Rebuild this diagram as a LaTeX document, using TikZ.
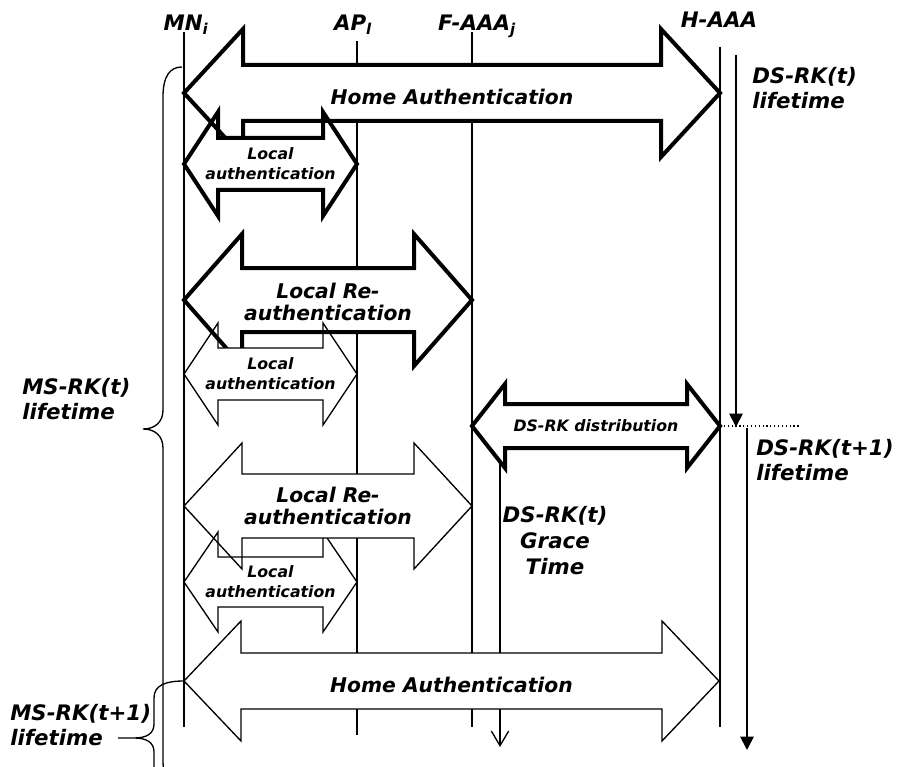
\documentclass[tikz,border=0pt]{standalone}
\usepackage{fontspec}
\setmainfont{DejaVu Sans}
\usetikzlibrary{arrows.meta}

% Double-headed block arrow: only the shaft is filled white.
% #1 style, #2 left tip x, #3 right tip x, #4 centre y,
% #5 head half height, #6 shaft half height, #7 head length, #8 name of centre
\newcommand\blockarrow[8]{%
  \fill[white] ({#2+#7},{#4-#6}) rectangle ({#3-#7},{#4+#6});
  \draw[#1] (#2,#4) -- ({#2+#7},{#4-#5}) -- ({#2+#7},{#4-#6})
    -- ({#3-#7},{#4-#6}) -- ({#3-#7},{#4-#5}) -- (#3,#4)
    -- ({#3-#7},{#4+#5}) -- ({#3-#7},{#4+#6}) -- ({#2+#7},{#4+#6})
    -- ({#2+#7},{#4+#5}) -- cycle;
  \coordinate (#8) at ({(#2+#3)/2},#4);
}

\begin{document}
\begin{tikzpicture}[x=0.75pt,y=-0.75pt,
  lifeline/.style={line width=0.9pt},
  thickarrow/.style={line width=3pt,line join=miter},
  thinarrow/.style={line width=1pt,line join=miter},
  bigtext/.style={font=\bfseries\itshape\fontsize{15.2}{17}\selectfont,align=center,inner sep=0pt},
  smalltext/.style={font=\bfseries\itshape\fontsize{11.8}{15}\selectfont,align=center,inner sep=0pt},
  labeltext/.style={font=\bfseries\itshape\fontsize{16}{18.5}\selectfont,align=left,inner sep=0pt,anchor=west},
  headtext/.style={font=\bfseries\itshape\fontsize{16}{18}\selectfont,inner sep=0pt,anchor=base},
  keylife/.style={line width=1.4pt,-{Triangle[length=10pt,width=10pt]}},
  graceline/.style={line width=1pt,-{Straight Barb[length=11pt,width=13pt]}},
  bracestyle/.style={line width=1pt}
]
\useasboundingbox (0,0) rectangle (901,767);
\clip (0,0) rectangle (901,767);

% lifelines
\coordinate (mnT) at (184,32);  \coordinate (mnB) at (184,727);
\coordinate (apT) at (357,41);  \coordinate (apB) at (357,735);
\coordinate (faT) at (472,32);  \coordinate (faB) at (472,727);
\coordinate (haT) at (720,47);  \coordinate (haB) at (720,727);
\draw[lifeline] (mnT) -- (mnB);
\draw[lifeline] (apT) -- (apB);
\draw[lifeline] (faT) -- (faB);
\draw[lifeline] (haT) -- (haB);

% entity names
\node[headtext] (mn) at (186,31) {MN\textsubscript{i}};
\node[headtext] (ap) at (353,31) {AP\textsubscript{l}};
\node[headtext] (fa) at (477,31) {F-AAA\textsubscript{j}};
\node[headtext] (ha) at (719,28) {H-AAA};

% DS-RK lifetimes
\coordinate (dsA) at (736,55);  \coordinate (dsB) at (736,427);
\coordinate (dsC) at (747,428); \coordinate (dsD) at (747,750);
\draw[keylife] (dsA) -- (dsB);
\draw[keylife] (dsC) -- (dsD);
\coordinate (dotEnd) at (801,426);
\draw[lifeline,dotted] (720,426) -- (dotEnd);
\node[labeltext] (dslife) at (752,88) {DS-RK(t)\\lifetime};
\node[labeltext] (dslife1) at (756,460) {DS-RK(t+1)\\lifetime};

% grace time of the old DS-RK
\coordinate (grA) at (500,461); \coordinate (grB) at (500,747);
\draw[graceline] (grA) -- (grB);
\node[font=\bfseries\itshape\fontsize{16}{19.5}\selectfont,align=center,inner sep=0pt] (grace) at (555,541) {DS-RK(t)\\Grace\\Time};

% exchanges
\blockarrow{thickarrow}{184}{720}{93}{64}{28}{59}{home1}
\node[bigtext,yshift=-3pt] (home1t) at (home1) {Home Authentication};

\blockarrow{thickarrow}{184}{357}{164}{52}{26}{34}{loc1}
\node[smalltext] (loc1t) at (loc1) {Local\\authentication};

\blockarrow{thickarrow}{184}{472}{300}{66}{32}{58}{re1}
\node[bigtext,yshift=-1.5pt] (re1t) at (re1) {Local Re-\\authentication};

\blockarrow{thinarrow}{184}{357}{374}{51}{26}{34}{loc2}
\node[smalltext] (loc2t) at (loc2) {Local\\authentication};

\blockarrow{thickarrow}{472}{720}{426}{42}{22}{33}{dist}
\node[smalltext] (distt) at (dist) {DS-RK distribution};

\blockarrow{thinarrow}{184}{357}{582}{50}{25}{34}{loc3}
\node[smalltext] (loc3t) at (loc3) {Local\\authentication};

\blockarrow{thinarrow}{184}{472}{506}{63}{32}{58}{re2}
\node[bigtext] (re2t) at (re2) {Local Re-\\authentication};

\blockarrow{thinarrow}{184}{719}{681}{60}{28}{57}{home2}
\node[bigtext,yshift=-3pt] (home2t) at (home2) {Home Authentication};

% MS-RK lifetimes
\draw[bracestyle] (182,67) .. controls (170,67) and (163,76) .. (163,97)
  -- (163,410) .. controls (163,422) and (155,429) .. (143,429)
  .. controls (155,429) and (163,436) .. (163,448)
  -- (163,760) .. controls (163,780) and (170,791) .. (182,791);
\node[labeltext] (mslife) at (22,399) {MS-RK(t)\\lifetime};

\draw[bracestyle] (home2-|mnT) .. controls (166,681) and (154,685) .. (154,698)
  -- (154,724) .. controls (154,734) and (146,738) .. (134,738) -- (118,738)
  -- (134,738) .. controls (146,738) and (154,742) .. (154,752) -- (154,790);
\node[labeltext] (mslife1) at (10,725) {MS-RK(t+1)\\lifetime};
\end{tikzpicture}
\end{document}
